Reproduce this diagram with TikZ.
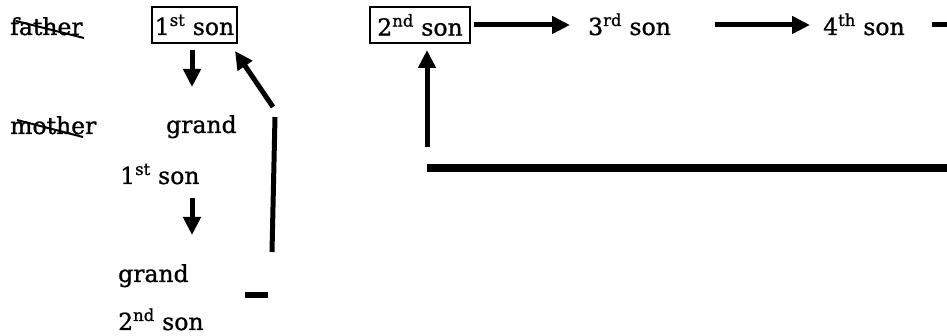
\documentclass[tikz,border=0pt]{standalone}
\usepackage{fontspec}
\setmainfont{DejaVu Serif}
\newfontfamily\cenfont{DejaVu Serif}[FakeBold=1.0]
\usetikzlibrary{arrows.meta}
\begin{document}
\begin{tikzpicture}[x=1pt,y=-1pt,
  lbl/.style={anchor=base west,inner sep=0pt,font=\cenfont\fontsize{23.5}{27}\selectfont},
  boxed/.style={draw,line width=1.5pt,inner sep=0pt,minimum height=36pt,font=\cenfont\fontsize{23.5}{27}\selectfont},
  arr/.style={line width=5pt,-{Triangle[length=18pt,width=17pt]}},
  bar/.style={line width=5pt},
  strike/.style={line width=2pt}]
\useasboundingbox (0,0) rectangle (947,336);
% texts
\node[lbl] (father) at (10,35) {father};
\node[lbl] (mother) at (10,134) {mother};
\node[boxed,minimum width=85pt] (s1) at (194.5,25) {1\textsuperscript{st} son};
\node[lbl] (g1) at (166,133) {grand};
\node[lbl] (gs1) at (120,184) {1\textsuperscript{st} son};
\node[lbl] (g2) at (118,282) {grand};
\node[lbl] (gs2) at (118,330) {2\textsuperscript{nd} son};
\node[boxed,minimum width=100pt] (s2) at (420,25) {2\textsuperscript{nd} son};
\node[lbl] (s3) at (588,35) {3\textsuperscript{rd} son};
\node[lbl] (s4) at (823,35) {4\textsuperscript{th} son};
% strikes
\coordinate (fa) at (16,21); \coordinate (fb) at (84,38);
\coordinate (ma) at (17,120); \coordinate (mb) at (83,137);
\draw[strike] (fa) -- (fb);
\draw[strike] (ma) -- (mb);
% connector coordinates
\coordinate (a1s) at (192,50); \coordinate (a1e) at (192,87);
\coordinate (a2s) at (273,107); \coordinate (a2e) at (235,51);
\coordinate (v1s) at (275,117); \coordinate (v1e) at (272,252);
\coordinate (a3s) at (192,198); \coordinate (a3e) at (192,235);
\coordinate (d1s) at (245,295); \coordinate (d1e) at (268,295);
\coordinate (a4s) at (474,25); \coordinate (a4e) at (570,25);
\coordinate (a5s) at (715,25); \coordinate (a5e) at (810,25);
\coordinate (d2s) at (932,25); \coordinate (d2e) at (947,25);
\coordinate (a6s) at (427,147); \coordinate (a6e) at (427,50);
\coordinate (hs) at (427,168); \coordinate (he) at (947,168);
% connectors
\draw[arr] (a1s) -- (a1e);
\draw[arr] (a2s) -- (a2e);
\draw[bar] (v1s) -- (v1e);
\draw[arr] (a3s) -- (a3e);
\draw[line width=6pt] (d1s) -- (d1e);
\draw[arr] (a4s) -- (a4e);
\draw[arr] (a5s) -- (a5e);
\draw[bar] (d2s) -- (d2e);
\draw[arr] (a6s) -- (a6e);
\draw[line width=8pt] (hs) -- (he);
\end{tikzpicture}
\end{document}
